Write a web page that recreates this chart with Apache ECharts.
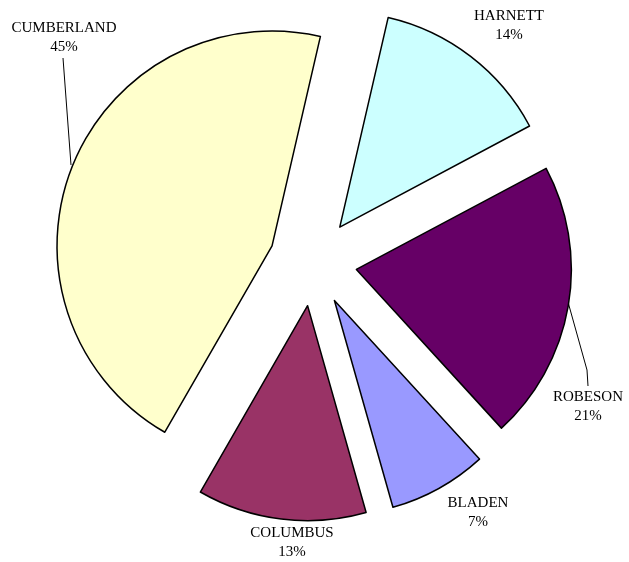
<!DOCTYPE html>
<html>
<head>
<meta charset="utf-8">
<script src="https://cdn.jsdelivr.net/npm/echarts@6/dist/echarts.min.js"></script>
<style>html,body{margin:0;padding:0;background:#fff;}#c{width:629px;height:562px;}</style>
</head>
<body>
<div id="c"></div>
<script>
const categories = ['HARNETT', 'ROBESON', 'BLADEN', 'COLUMBUS', 'CUMBERLAND'];
const values = [136, 210, 74, 127, 453];
const colors = ['#CCFFFF', '#660066', '#9999FF', '#993366', '#FFFFCC'];

// label block centres and leader lines (layout only)
const labelPos = {
  HARNETT: {x: 509, y: 26, line: null},
  ROBESON: {x: 588, y: 407, line: [[568, 302], [587, 370], [588, 386]]},
  BLADEN: {x: 478, y: 513, line: null},
  COLUMBUS: {x: 292, y: 543, line: null},
  CUMBERLAND: {x: 64, y: 38, line: [[71, 165], [63, 58]]}
};

const chart = echarts.init(document.getElementById('c'), null, {renderer: 'canvas'});
const pieData = categories.map((n, i) => ({
  name: n,
  value: values[i],
  selected: true,
  itemStyle: {color: colors[i]}
}));
const labelData = categories.map((n, i) => ({
  name: n,
  value: values[i],
  labelLine: {show: !!labelPos[n].line}
}));
const common = {
  type: 'pie',
  center: [313, 262],
  radius: [0, 215],
  startAngle: 77,
  clockwise: true,
  avoidLabelOverlap: false,
  percentPrecision: 0
};
chart.setOption({
  animation: false,
  backgroundColor: '#ffffff',
  series: [
    Object.assign({}, common, {
      selectedMode: 'multiple',
      selectedOffset: 44,
      emphasis: {disabled: true},
      itemStyle: {borderColor: '#000', borderWidth: 1.5},
      label: {show: false},
      labelLine: {show: false},
      data: pieData
    }),
    Object.assign({}, common, {
      silent: true,
      selectedMode: false,
      emphasis: {disabled: true},
      itemStyle: {color: 'rgba(0,0,0,0)', borderWidth: 0},
      label: {
        show: true,
        position: 'outside',
        formatter: '{b}\n{d}%',
        fontFamily: 'Liberation Serif',
        fontSize: 15,
        lineHeight: 19,
        color: '#000',
        align: 'center'
      },
      labelLine: {show: true, lineStyle: {color: '#000', width: 1}},
      labelLayout: function (p) {
        const lp = labelPos[categories[p.dataIndex]];
        const o = {x: lp.x, y: lp.y, align: 'center', verticalAlign: 'middle'};
        if (lp.line) o.labelLinePoints = lp.line;
        return o;
      },
      data: labelData
    })
  ]
});
</script>
</body>
</html>
